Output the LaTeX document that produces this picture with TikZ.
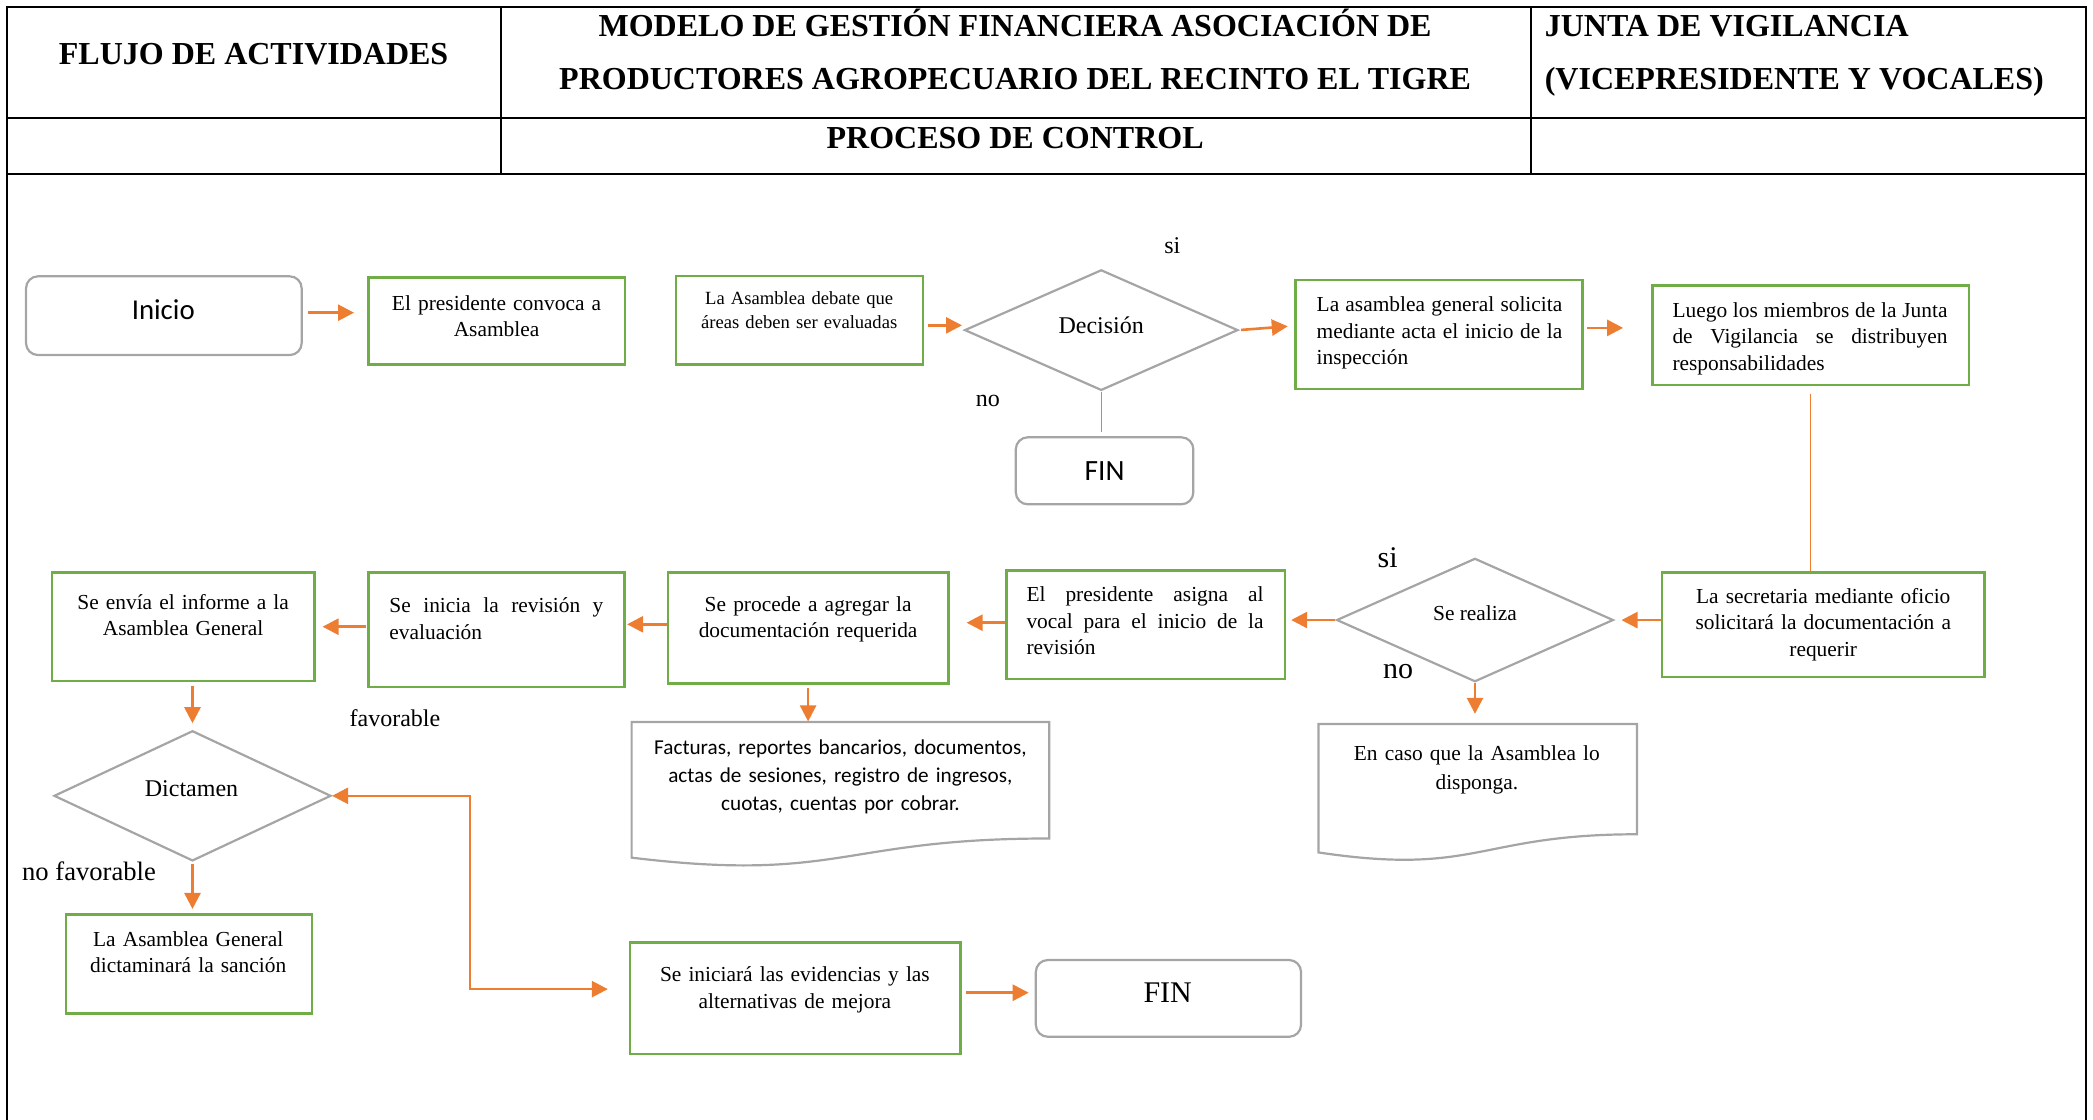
\documentclass[tikz,border=0pt]{standalone}
\usepackage{fontspec}
\setmainfont{Liberation Serif}
\newfontfamily\calibrifont{Carlito}
\usetikzlibrary{shapes.geometric,arrows.meta,fit,calc}
\definecolor{vgreen}{HTML}{70AD47}
\definecolor{vorange}{HTML}{ED7D31}
\definecolor{vgray}{HTML}{A5A5A5}
\tolerance=10000
\hbadness=10000
\setlength\parindent{0pt}
\newcommand\fbody{\fontsize{10.7pt}{13.2pt}\selectfont}
\tikzset{
  frame/.style={draw=black,line width=0.9pt},
  gbox/.style={rectangle,draw=vgreen,line width=1.2pt,inner sep=0pt},
  tbox/.style={rectangle,draw=vgray,line width=1.1pt,inner sep=0pt,rounded corners=6pt},
  dbox/.style={rectangle,inner sep=0pt},
  docline/.style={draw=vgray,line width=1.1pt},
  decision/.style={diamond,draw=vgray,line width=1.1pt,inner sep=0pt},
  arr/.style={draw=vorange,line width=1.3pt,-{Triangle[length=8pt,width=8pt]}},
  arrboth/.style={draw=vorange,line width=1.3pt,{Triangle[length=8pt,width=8pt]}-{Triangle[length=8pt,width=8pt]}},
  thinline/.style={draw=vorange,line width=0.5pt},
  lines/.style={inner sep=0pt,anchor=north,align=center,font=\fbody},
  word/.style={inner sep=0pt,anchor=base},
  hd/.style={inner sep=0pt,anchor=base,font=\fontsize{16pt}{19pt}\selectfont\bfseries},
}
\begin{document}
\begin{tikzpicture}[x=0.6674pt,y=-0.6674pt]
\useasboundingbox (0,0) rectangle (1568,839);

% header table
\draw[frame] (5.5,839) -- (5.5,5) -- (1563,5) -- (1563,839);
\draw[frame] (5.5,88.6) -- (1563,88.6);
\draw[frame] (5.5,130.6) -- (1563,130.6);
\draw[frame] (375.3,5) -- (375.3,130.6);
\draw[frame] (1147,5) -- (1147,130.6);
\node[hd] (h1) at (190,48) {FLUJO DE ACTIVIDADES};
\node[hd] (h2a) at (760.5,27.3) {MODELO DE GESTIÓN FINANCIERA ASOCIACIÓN DE};
\node[hd] (h2b) at (760.5,67) {PRODUCTORES AGROPECUARIO DEL RECINTO EL TIGRE};
\node[hd,anchor=base west] (h3a) at (1157,27.3) {JUNTA DE VIGILANCIA};
\node[hd,anchor=base west] (h3b) at (1157,67) {(VICEPRESIDENTE Y VOCALES)};
\node[hd] (h4) at (760.5,110.9) {PROCESO DE CONTROL};

% terminals
\node[tbox,fit={(19.5,207)(226,266)}] (inicio) {};
\node[word,font=\calibrifont\fontsize{14.4pt}{17pt}\selectfont] (tinicio) at (122.3,239.2) {Inicio};
\node[tbox,fit={(761,327.6)(894,377.8)}] (fin1) {};
\node[word,font=\calibrifont\fontsize{14.7pt}{17pt}\selectfont] (tfin1) at (827.5,359.6) {FIN};
\node[tbox,fit={(776,719.2)(974.7,776.7)}] (fin2) {};
\node[word,font=\fontsize{15pt}{18pt}\selectfont] (tfin2) at (874.8,751.2) {FIN};

% process boxes
\node[gbox,fit={(276,208)(468,273)}] (conv) {};
\node[lines,text width=125pt] (tconv) at (372,218.3) {\strut El presidente convoca a\\Asamblea};

\node[gbox,fit={(506.4,206.8)(691.4,273.2)}] (debate) {};
\node[lines,text width=120pt,font=\fontsize{9.3pt}{11.8pt}\selectfont] (tdebate) at (598.7,215.8) {\strut La Asamblea debate que\\áreas deben ser evaluadas};

\node[gbox,fit={(970.6,209.8)(1185.6,291.4)}] (asam) {};
\node[lines,align=justify,text width=122.8pt] (tasam) at (1078.4,219.5) {\strut La asamblea general solicita\linebreak mediante acta el inicio de la\linebreak inspección};

\node[gbox,fit={(1238,214)(1475.2,288.2)}] (luego) {};
\node[lines,align=justify,text width=137.5pt] (tluego) at (1356,223.7) {\strut Luego los miembros de la Junta\linebreak de Vigilancia se distribuyen\linebreak responsabilidades};

\node[gbox,fit={(1245.3,428.8)(1486.6,507.2)}] (secr) {};
\node[lines,text width=155pt] (tsecr) at (1365.9,438) {\strut La secretaria mediante oficio\\solicitará la documentación a\\requerir};

\node[gbox,fit={(754,427.3)(962.8,508.7)}] (asigna) {};
\node[lines,align=justify,text width=118.5pt] (tasigna) at (857.8,436.8) {\strut El presidente asigna al\linebreak vocal para el inicio de la\linebreak revisión};

\node[gbox,fit={(500.3,428.8)(710.5,512)}] (procede) {};
\node[lines,text width=135pt] (tprocede) at (605.4,443.8) {\strut Se procede a agregar la\\documentación requerida};

\node[gbox,fit={(276,428.8)(467.7,514.7)}] (revision) {};
\node[lines,align=justify,text width=107pt] (trevision) at (371.9,444.8) {\strut Se inicia la revisión y\linebreak evaluación};

\node[gbox,fit={(38.9,428.8)(235.5,510.2)}] (envia) {};
\node[lines,text width=128pt] (tenvia) at (137.2,442.5) {\strut Se envía el informe a la\\Asamblea General};

\node[gbox,fit={(49.4,685)(233.9,759.2)}] (sancion) {};
\node[lines,text width=120pt] (tsancion) at (141,694.7) {\strut La Asamblea General\\dictaminará la sanción};

\node[gbox,fit={(472,706)(719.5,789.8)}] (iniciara) {};
\node[lines,text width=160pt] (tiniciara) at (595.5,721.4) {\strut Se iniciará las evidencias y las\\alternativas de mejora};

% decisions
\node[decision,minimum width=136.7pt,minimum height=60.3pt] (decision) at (825,247.3) {};
\node[word,font=\fontsize{12pt}{14pt}\selectfont] (tdecision) at (825,249.7) {Decisión};
\node[word,font=\fontsize{12pt}{14pt}\selectfont] (si1) at (878.3,189.8) {si};
\node[word,font=\fontsize{12pt}{14pt}\selectfont] (no1) at (740,304.7) {no};

\node[decision,minimum width=138.4pt,minimum height=61.7pt] (realiza) at (1105,464.5) {};
\node[word,font=\fbody] (trealiza) at (1105,465) {Se realiza};
\node[word,font=\fontsize{15pt}{18pt}\selectfont] (si2) at (1039.6,425) {si};
\node[word,font=\fontsize{15pt}{18pt}\selectfont] (no2) at (1047.4,508.2) {no};

\node[decision,minimum width=138.5pt,minimum height=65.1pt] (dictamen) at (144.2,596.2) {};
\node[word,font=\fontsize{12pt}{14pt}\selectfont] (tdictamen) at (143.5,596.4) {Dictamen};
\node[word,font=\fontsize{12pt}{14pt}\selectfont] (fav) at (295.9,544.4) {favorable};
\node[word,font=\fontsize{13.3pt}{16pt}\selectfont] (nofav) at (66.7,659.8) {no favorable};

% documents
\node[dbox,fit={(473.5,541.2)(785.7,649.4)}] (fac) {};
\draw[docline] (fac.north west) -- (fac.north east) -- ($(fac.north east)!0.802!(fac.south east)$)
  .. controls ($(fac.north)!0.802!(fac.south)$) and ($(fac.north)!1.1075!(fac.south)$) ..
  ($(fac.north west)!0.934!(fac.south west)$) -- cycle;
\node[lines,text width=200pt,font=\calibrifont\fontsize{10.6pt}{13.9pt}\selectfont] (tfac) at (629.6,550.5)
  {\strut Facturas, reportes bancarios, documentos,\\actas de sesiones, registro de ingresos,\\cuotas, cuentas por cobrar.};

\node[dbox,fit={(988,542.7)(1226,645.1)}] (encaso) {};
\draw[docline] (encaso.north west) -- (encaso.north east) -- ($(encaso.north east)!0.802!(encaso.south east)$)
  .. controls ($(encaso.north)!0.802!(encaso.south)$) and ($(encaso.north)!1.1075!(encaso.south)$) ..
  ($(encaso.north west)!0.934!(encaso.south west)$) -- cycle;
\node[lines,text width=150pt,font=\fontsize{10.7pt}{14.7pt}\selectfont] (tencaso) at (1106.4,553.8)
  {\strut En caso que la Asamblea lo\\disponga.};

% connectors
\draw[arr,shorten <=2.5pt,shorten >=6.6pt] ([yshift=1.5pt]inicio.east) -- ([yshift=1.5pt]inicio.east -| conv.west);
\draw[arr,shorten <=1.7pt,shorten >=0.7pt] ([yshift=-2.5pt]debate.east) -- ([yshift=-2.5pt]debate.east -| decision.west);
\draw[arr,shorten <=1pt] (decision.east) -- ([xshift=-3.3pt,yshift=4.1pt]asam.west);
\draw[arr,shorten <=1.5pt,shorten >=14.1pt] ([yshift=3.3pt]asam.east) -- ([yshift=3.3pt]asam.east -| luego.west);
\draw[thinline,shorten >=2pt] (decision.south) -- (decision.south |- fin1.north);
\draw[thinline,shorten <=3.9pt] (luego.south) -- (luego.south |- secr.north);
\draw[arr,shorten >=3.5pt] ([yshift=2.3pt]secr.west) -- ([yshift=2.3pt]secr.west -| realiza.east);
\draw[arr,shorten >=2.4pt] (realiza.west) -- (realiza.west -| asigna.east);
\draw[arr,shorten >=8.5pt] ([yshift=1pt]asigna.west) -- ([yshift=1pt]asigna.west -| procede.east);
\draw[arr,shorten >=0.8pt] ([yshift=1.8pt]procede.west) -- ([yshift=1.8pt]procede.west -| revision.east);
\draw[arr,shorten <=0.7pt,shorten >=3.5pt] ([yshift=1.5pt]revision.west) -- ([yshift=1.5pt]revision.west -| envia.east);
\draw[arr,shorten <=2pt,shorten >=3.2pt] (dictamen.north |- envia.south) -- (dictamen.north);
\draw[arr,shorten <=1pt,shorten >=2.1pt] (dictamen.south) -- (dictamen.south |- sancion.north);
\coordinate (elbow) at (352.2,670);
\draw[arrboth] (dictamen.east) -| (elbow) |- ([xshift=-10.5pt,yshift=4.6pt]iniciara.west);
\draw[arr,shorten <=2pt,shorten >=3pt] ([yshift=2.8pt]iniciara.east) -- ([yshift=2.8pt]iniciara.east -| fin2.west);
\draw[arr,shorten <=1.8pt,shorten >=0.3pt] (procede.south) -- (procede.south |- fac.north);
\draw[arr,shorten >=5.1pt] (realiza.south) -- (realiza.south |- encaso.north);
\end{tikzpicture}
\end{document}
